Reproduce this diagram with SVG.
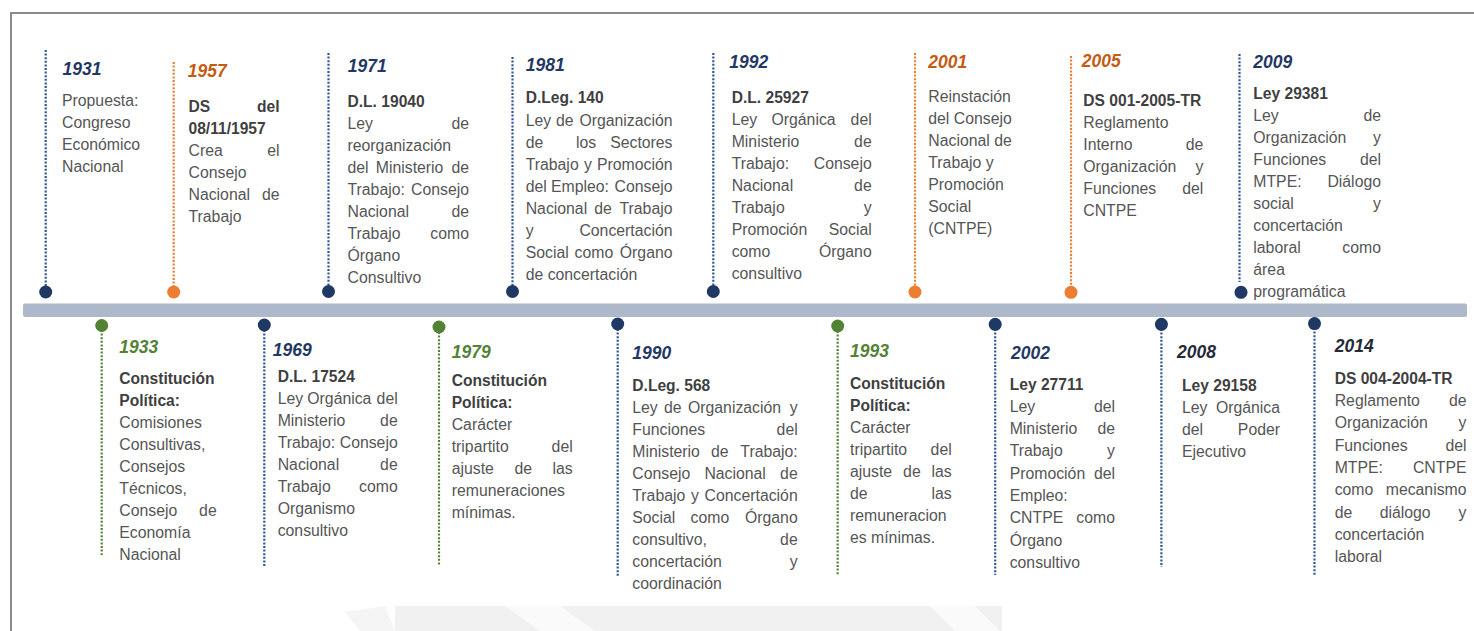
<svg xmlns="http://www.w3.org/2000/svg" width="1474" height="631" viewBox="0 0 1474 631">
  <style>
    text { font-family: "Liberation Sans", Arial, sans-serif; }
    .t { font-size: 15.8px; fill: #555555; }
    .b { font-size: 15.6px; font-weight: bold; fill: #3f3f3f; }
    .y { font-size: 17.5px; font-weight: bold; font-style: italic; }
    .e { text-anchor: end; }
    .navy { fill: #1f3864; }
    .org { fill: #c55a11; }
    .grn { fill: #538135; }
    .dark { fill: #252a36; }
    .stem { fill: none; stroke-width: 2.2; stroke-dasharray: 2 1.6; }
    .sn { stroke: #2f5597; }
    .so { stroke: #ed7d31; }
    .sg { stroke: #548235; }
    .dn { fill: #203864; }
    .do { fill: #ed7d31; }
    .dg { fill: #548235; }
  </style>

  <rect x="0" y="0" width="1474" height="631" fill="#ffffff"/>

  <!-- faint watermark at the bottom edge -->
  <g id="watermark">
    <polygon points="395,606 1002,606 1002,631 395,631" fill="#f1f1f1"/>
    <polygon points="505,606 560,606 595,631 540,631" fill="#fafafa"/>
    <polygon points="930,606 975,606 1000,631 955,631" fill="#fafafa"/>
    <polygon points="345,612 385,606 395,631 360,631" fill="#f5f5f5"/>
  </g>

  <!-- outer frame -->
  <g id="frame" stroke="#8a8a8a" stroke-width="2" fill="none">
    <line x1="10" y1="13" x2="1474" y2="13"/>
    <line x1="11" y1="12" x2="11" y2="631"/>
  </g>

  <!-- timeline bar -->
  <rect id="timeline" x="23" y="303.5" width="1444" height="13.5" rx="2" fill="#adb9ca"/>

  <!-- dotted stems linking each entry to the timeline -->
  <g id="connectors">
    <line class="stem sn" x1="45.7" y1="50" x2="45.7" y2="287"/>
    <line class="stem so" x1="173.7" y1="62" x2="173.7" y2="287"/>
    <line class="stem sn" x1="328.5" y1="53" x2="328.5" y2="287"/>
    <line class="stem sn" x1="512.5" y1="57" x2="512.5" y2="287"/>
    <line class="stem sn" x1="713.3" y1="53" x2="713.3" y2="287"/>
    <line class="stem so" x1="915" y1="53" x2="915" y2="287"/>
    <line class="stem so" x1="1071" y1="56" x2="1071" y2="287"/>
    <line class="stem sn" x1="1239.5" y1="54" x2="1239.5" y2="282"/>

    <line class="stem sg" x1="101.7" y1="330" x2="101.7" y2="555"/>
    <line class="stem sn" x1="264.3" y1="330" x2="264.3" y2="566"/>
    <line class="stem sg" x1="439" y1="332" x2="439" y2="566"/>
    <line class="stem sn" x1="617.7" y1="329" x2="617.7" y2="577"/>
    <line class="stem sg" x1="837.7" y1="331" x2="837.7" y2="575"/>
    <line class="stem sn" x1="995.2" y1="329" x2="995.2" y2="575"/>
    <line class="stem sn" x1="1161.4" y1="329" x2="1161.4" y2="567"/>
    <line class="stem sn" x1="1314.5" y1="328" x2="1314.5" y2="575"/>
  </g>

  <!-- upper entries -->
  <g id="ev-1931">
    <circle class="dn" cx="45.7" cy="292" r="6.5"/>
    <text class="y navy" x="62.5" y="75">1931</text>
    <text class="t" x="62" y="106">Propuesta:</text>
    <text class="t" x="62" y="128">Congreso</text>
    <text class="t" x="62" y="150">Económico</text>
    <text class="t" x="62" y="172">Nacional</text>
  </g>

  <g id="ev-1957">
    <circle class="do" cx="173.7" cy="292" r="6.5"/>
    <text class="y org" x="187.7" y="77">1957</text>
    <text class="b" x="188.5" y="111.5">DS</text><text class="b e" x="279.5" y="111.5">del</text>
    <text class="b" x="188.5" y="133.5">08/11/1957</text>
    <text class="t" x="188.5" y="155.5">Crea</text><text class="t e" x="279.5" y="155.5">el</text>
    <text class="t" x="188.5" y="177.5">Consejo</text>
    <text class="t" x="188.5" y="199.5">Nacional</text><text class="t e" x="279.5" y="199.5">de</text>
    <text class="t" x="188.5" y="221.5">Trabajo</text>
  </g>

  <g id="ev-1971">
    <circle class="dn" cx="328.5" cy="291.5" r="6.5"/>
    <text class="y navy" x="347.7" y="72">1971</text>
    <text class="b" x="347.5" y="106.7">D.L. 19040</text>
    <text class="t" x="347.5" y="129">Ley</text><text class="t e" x="469" y="129">de</text>
    <text class="t" x="347.5" y="151">reorganización</text>
    <text class="t" x="347.5" y="173">del</text><text class="t" x="375.8" y="173">Ministerio</text><text class="t e" x="469" y="173">de</text>
    <text class="t" x="347.5" y="195">Trabajo:</text><text class="t e" x="469" y="195">Consejo</text>
    <text class="t" x="347.5" y="217">Nacional</text><text class="t e" x="469" y="217">de</text>
    <text class="t" x="347.5" y="239">Trabajo</text><text class="t e" x="469" y="239">como</text>
    <text class="t" x="347.5" y="261">Órgano</text>
    <text class="t" x="347.5" y="283">Consultivo</text>
  </g>

  <g id="ev-1981">
    <circle class="dn" cx="512.5" cy="291.5" r="6.5"/>
    <text class="y navy" x="525.7" y="70.7">1981</text>
    <text class="b" x="525.7" y="103.3">D.Leg. 140</text>
    <text class="t" x="525.7" y="125.5">Ley</text><text class="t" x="556" y="125.5">de</text><text class="t e" x="672.5" y="125.5">Organización</text>
    <text class="t" x="525.7" y="147.5">de</text><text class="t" x="576" y="147.5">los</text><text class="t e" x="672.5" y="147.5">Sectores</text>
    <text class="t" x="525.7" y="169.5">Trabajo</text><text class="t" x="584" y="169.5">y</text><text class="t e" x="672.5" y="169.5">Promoción</text>
    <text class="t" x="525.7" y="191.5">del</text><text class="t" x="551" y="191.5">Empleo:</text><text class="t e" x="672.5" y="191.5">Consejo</text>
    <text class="t" x="525.7" y="213.5">Nacional</text><text class="t" x="594.2" y="213.5">de</text><text class="t e" x="672.5" y="213.5">Trabajo</text>
    <text class="t" x="525.7" y="235.5">y</text><text class="t e" x="672.5" y="235.5">Concertación</text>
    <text class="t" x="525.7" y="257.5">Social</text><text class="t" x="574.6" y="257.5">como</text><text class="t e" x="672.5" y="257.5">Órgano</text>
    <text class="t" x="525.7" y="279.5">de concertación</text>
  </g>

  <g id="ev-1992">
    <circle class="dn" cx="713.3" cy="291.5" r="6.5"/>
    <text class="y navy" x="729.3" y="68.3">1992</text>
    <text class="b" x="731.7" y="102.7">D.L. 25927</text>
    <text class="t" x="731.7" y="125">Ley</text><text class="t" x="771.5" y="125">Orgánica</text><text class="t e" x="871.7" y="125">del</text>
    <text class="t" x="731.7" y="147">Ministerio</text><text class="t e" x="871.7" y="147">de</text>
    <text class="t" x="731.7" y="169">Trabajo:</text><text class="t e" x="871.7" y="169">Consejo</text>
    <text class="t" x="731.7" y="191">Nacional</text><text class="t e" x="871.7" y="191">de</text>
    <text class="t" x="731.7" y="213">Trabajo</text><text class="t e" x="871.7" y="213">y</text>
    <text class="t" x="731.7" y="235">Promoción</text><text class="t e" x="871.7" y="235">Social</text>
    <text class="t" x="731.7" y="257">como</text><text class="t e" x="871.7" y="257">Órgano</text>
    <text class="t" x="731.7" y="279">consultivo</text>
  </g>

  <g id="ev-2001">
    <circle class="do" cx="915" cy="292" r="6.5"/>
    <text class="y org" x="928.3" y="68.3">2001</text>
    <text class="t" x="928.3" y="102.3">Reinstación</text>
    <text class="t" x="928.3" y="124.3">del Consejo</text>
    <text class="t" x="928.3" y="146.3">Nacional de</text>
    <text class="t" x="928.3" y="168.3">Trabajo y</text>
    <text class="t" x="928.3" y="190.3">Promoción</text>
    <text class="t" x="928.3" y="212.3">Social</text>
    <text class="t" x="928.3" y="234.3">(CNTPE)</text>
  </g>

  <g id="ev-2005">
    <circle class="do" cx="1071" cy="292.3" r="6.5"/>
    <text class="y org" x="1081.7" y="67.3">2005</text>
    <text class="b" x="1083.3" y="105.7">DS 001-2005-TR</text>
    <text class="t" x="1083.3" y="127.7">Reglamento</text>
    <text class="t" x="1083.3" y="149.7">Interno</text><text class="t e" x="1203.3" y="149.7">de</text>
    <text class="t" x="1083.3" y="171.7">Organización</text><text class="t e" x="1203.3" y="171.7">y</text>
    <text class="t" x="1083.3" y="193.7">Funciones</text><text class="t e" x="1203.3" y="193.7">del</text>
    <text class="t" x="1083.3" y="215.7">CNTPE</text>
  </g>

  <g id="ev-2009">
    <circle class="dn" cx="1241" cy="292.3" r="6.5"/>
    <text class="y navy" x="1253.3" y="68.3">2009</text>
    <text class="b" x="1253.3" y="98.5">Ley 29381</text>
    <text class="t" x="1253.3" y="120.5">Ley</text><text class="t e" x="1381" y="120.5">de</text>
    <text class="t" x="1253.3" y="142.5">Organización</text><text class="t e" x="1381" y="142.5">y</text>
    <text class="t" x="1253.3" y="164.5">Funciones</text><text class="t e" x="1381" y="164.5">del</text>
    <text class="t" x="1253.3" y="186.5">MTPE:</text><text class="t e" x="1381" y="186.5">Diálogo</text>
    <text class="t" x="1253.3" y="208.5">social</text><text class="t e" x="1381" y="208.5">y</text>
    <text class="t" x="1253.3" y="230.5">concertación</text>
    <text class="t" x="1253.3" y="252.5">laboral</text><text class="t e" x="1381" y="252.5">como</text>
    <text class="t" x="1253.3" y="274.5">área</text>
    <text class="t" x="1253.3" y="296.5">programática</text>
  </g>

  <!-- lower entries -->
  <g id="ev-1933">
    <circle class="dg" cx="101.7" cy="325.5" r="6.5"/>
    <text class="y grn" x="119.3" y="353.3">1933</text>
    <text class="b" x="119.3" y="384.3">Constitución</text>
    <text class="b" x="119.3" y="406.3">Política:</text>
    <text class="t" x="119.3" y="428.3">Comisiones</text>
    <text class="t" x="119.3" y="450.3">Consultivas,</text>
    <text class="t" x="119.3" y="472.3">Consejos</text>
    <text class="t" x="119.3" y="494.3">Técnicos,</text>
    <text class="t" x="119.3" y="516.3">Consejo</text><text class="t e" x="216.7" y="516.3">de</text>
    <text class="t" x="119.3" y="538.3">Economía</text>
    <text class="t" x="119.3" y="560.3">Nacional</text>
  </g>

  <g id="ev-1969">
    <circle class="dn" cx="264.3" cy="325" r="6.5"/>
    <text class="y navy" x="272.7" y="356">1969</text>
    <text class="b" x="277.7" y="381.7">D.L. 17524</text>
    <text class="t" x="277.7" y="403.7">Ley</text><text class="t" x="307.3" y="403.7">Orgánica</text><text class="t e" x="397.7" y="403.7">del</text>
    <text class="t" x="277.7" y="425.7">Ministerio</text><text class="t e" x="397.7" y="425.7">de</text>
    <text class="t" x="277.7" y="447.7">Trabajo:</text><text class="t e" x="397.7" y="447.7">Consejo</text>
    <text class="t" x="277.7" y="469.7">Nacional</text><text class="t e" x="397.7" y="469.7">de</text>
    <text class="t" x="277.7" y="491.7">Trabajo</text><text class="t e" x="397.7" y="491.7">como</text>
    <text class="t" x="277.7" y="513.7">Organismo</text>
    <text class="t" x="277.7" y="535.7">consultivo</text>
  </g>

  <g id="ev-1979">
    <circle class="dg" cx="439" cy="327" r="6.5"/>
    <text class="y grn" x="451.7" y="357.7">1979</text>
    <text class="b" x="451.7" y="385.7">Constitución</text>
    <text class="b" x="451.7" y="407.7">Política:</text>
    <text class="t" x="451.7" y="429.7">Carácter</text>
    <text class="t" x="451.7" y="451.7">tripartito</text><text class="t e" x="572.7" y="451.7">del</text>
    <text class="t" x="451.7" y="473.7">ajuste</text><text class="t" x="514.5" y="473.7">de</text><text class="t e" x="572.7" y="473.7">las</text>
    <text class="t" x="451.7" y="495.7">remuneraciones</text>
    <text class="t" x="451.7" y="517.7">mínimas.</text>
  </g>

  <g id="ev-1990">
    <circle class="dn" cx="617.7" cy="324" r="6.5"/>
    <text class="y navy" x="632.3" y="359.3">1990</text>
    <text class="b" x="632.3" y="390.7">D.Leg. 568</text>
    <text class="t" x="632.3" y="412.7">Ley</text><text class="t" x="664" y="412.7">de</text><text class="t" x="688" y="412.7">Organización</text><text class="t e" x="797.7" y="412.7">y</text>
    <text class="t" x="632.3" y="434.7">Funciones</text><text class="t e" x="797.7" y="434.7">del</text>
    <text class="t" x="632.3" y="456.7">Ministerio</text><text class="t" x="711" y="456.7">de</text><text class="t e" x="797.7" y="456.7">Trabajo:</text>
    <text class="t" x="632.3" y="478.7">Consejo</text><text class="t" x="704.4" y="478.7">Nacional</text><text class="t e" x="797.7" y="478.7">de</text>
    <text class="t" x="632.3" y="500.7">Trabajo</text><text class="t" x="691" y="500.7">y</text><text class="t e" x="797.7" y="500.7">Concertación</text>
    <text class="t" x="632.3" y="522.7">Social</text><text class="t" x="690.6" y="522.7">como</text><text class="t e" x="797.7" y="522.7">Órgano</text>
    <text class="t" x="632.3" y="544.7">consultivo,</text><text class="t e" x="797.7" y="544.7">de</text>
    <text class="t" x="632.3" y="566.7">concertación</text><text class="t e" x="797.7" y="566.7">y</text>
    <text class="t" x="632.3" y="588.7">coordinación</text>
  </g>

  <g id="ev-1993">
    <circle class="dg" cx="837.7" cy="326" r="6.5"/>
    <text class="y grn" x="850" y="357.3">1993</text>
    <text class="b" x="850" y="389.3">Constitución</text>
    <text class="b" x="850" y="411.3">Política:</text>
    <text class="t" x="850" y="433.3">Carácter</text>
    <text class="t" x="850" y="455.3">tripartito</text><text class="t e" x="951.7" y="455.3">del</text>
    <text class="t" x="850" y="477.3">ajuste</text><text class="t" x="903.1" y="477.3">de</text><text class="t e" x="951.7" y="477.3">las</text>
    <text class="t" x="850" y="499.3">de</text><text class="t e" x="951.7" y="499.3">las</text>
    <text class="t" x="850" y="521.3">remuneracion</text>
    <text class="t" x="850" y="543.3">es mínimas.</text>
  </g>

  <g id="ev-2002">
    <circle class="dn" cx="995.2" cy="324.3" r="6.5"/>
    <text class="y navy" x="1011" y="359">2002</text>
    <text class="b" x="1009.7" y="389.5">Ley 27711</text>
    <text class="t" x="1009.7" y="411.8">Ley</text><text class="t e" x="1115" y="411.8">del</text>
    <text class="t" x="1009.7" y="434.1">Ministerio</text><text class="t e" x="1115" y="434.1">de</text>
    <text class="t" x="1009.7" y="456.4">Trabajo</text><text class="t e" x="1115" y="456.4">y</text>
    <text class="t" x="1009.7" y="478.7">Promoción</text><text class="t e" x="1115" y="478.7">del</text>
    <text class="t" x="1009.7" y="501">Empleo:</text>
    <text class="t" x="1009.7" y="523.3">CNTPE</text><text class="t e" x="1115" y="523.3">como</text>
    <text class="t" x="1009.7" y="545.6">Órgano</text>
    <text class="t" x="1009.7" y="567.9">consultivo</text>
  </g>

  <g id="ev-2008">
    <circle class="dn" cx="1161.4" cy="324.3" r="6.5"/>
    <text class="y dark" x="1177" y="358">2008</text>
    <text class="b" x="1182" y="390.5">Ley 29158</text>
    <text class="t" x="1182" y="412.5">Ley</text><text class="t e" x="1280" y="412.5">Orgánica</text>
    <text class="t" x="1182" y="434.5">del</text><text class="t e" x="1280" y="434.5">Poder</text>
    <text class="t" x="1182" y="456.5">Ejecutivo</text>
  </g>

  <g id="ev-2014">
    <circle class="dn" cx="1314.5" cy="323.6" r="6.5"/>
    <text class="y dark" x="1334.7" y="352.4">2014</text>
    <text class="b" x="1334.7" y="383.8">DS 004-2004-TR</text>
    <text class="t" x="1334.7" y="406.1">Reglamento</text><text class="t e" x="1466.5" y="406.1">de</text>
    <text class="t" x="1334.7" y="428.4">Organización</text><text class="t e" x="1466.5" y="428.4">y</text>
    <text class="t" x="1334.7" y="450.7">Funciones</text><text class="t e" x="1466.5" y="450.7">del</text>
    <text class="t" x="1334.7" y="473">MTPE:</text><text class="t e" x="1466.5" y="473">CNTPE</text>
    <text class="t" x="1334.7" y="495.3">como</text><text class="t e" x="1466.5" y="495.3">mecanismo</text>
    <text class="t" x="1334.7" y="517.6">de</text><text class="t" x="1379.7" y="517.6">diálogo</text><text class="t e" x="1466.5" y="517.6">y</text>
    <text class="t" x="1334.7" y="539.9">concertación</text>
    <text class="t" x="1334.7" y="562.2">laboral</text>
  </g>
</svg>
